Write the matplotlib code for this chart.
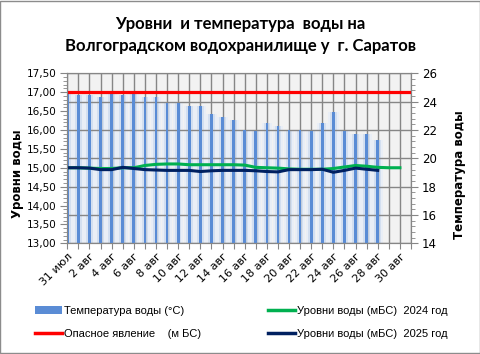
import numpy as np
import matplotlib
matplotlib.use('Agg')
import matplotlib.pyplot as plt
from matplotlib.ticker import MultipleLocator, FuncFormatter
from matplotlib.patches import Patch, Rectangle
from matplotlib.lines import Line2D

# dates on the x axis (31 Jul .. 31 Aug)
dates = ['31 июл', '1 авг', '2 авг', '3 авг', '4 авг', '5 авг', '6 авг', '7 авг',
         '8 авг', '9 авг', '10 авг', '11 авг', '12 авг', '13 авг', '14 авг', '15 авг',
         '16 авг', '17 авг', '18 авг', '19 авг', '20 авг', '21 авг', '22 авг', '23 авг',
         '24 авг', '25 авг', '26 авг', '27 авг', '28 авг', '29 авг', '30 авг', '31 авг']

# water temperature, 2025 (deg C)
temp = [24.7, 24.5, 24.5, 24.3, 24.6, 24.5, 24.6, 24.3, 24.3, 23.9, 23.9, 23.7, 23.7,
        23.1, 22.9, 22.7, 22.0, 21.9, 22.5, 22.3, 22.0, 22.0, 21.9, 22.5, 23.3, 21.9,
        21.7, 21.7, 21.3]

# water levels (m BS)
level_2024 = [15.00, 15.00, 14.99, 14.98, 14.98, 15.00, 15.00, 15.06, 15.09, 15.10, 15.10,
              15.08, 15.08, 15.08, 15.08, 15.08, 15.07, 15.01, 15.00, 14.99, 14.97, 14.96,
              14.96, 14.96, 14.98, 15.02, 15.06, 15.04, 15.01, 15.00, 15.00]
level_2025 = [15.00, 15.00, 14.99, 14.95, 14.95, 15.01, 14.98, 14.95, 14.94, 14.93, 14.93,
              14.93, 14.90, 14.92, 14.93, 14.93, 14.93, 14.92, 14.90, 14.89, 14.95, 14.95,
              14.95, 14.96, 14.88, 14.93, 14.99, 14.96, 14.93]
danger_level = 17.0

grid_col = '#868686'
bar_col = '#5a8cd5'

fig = plt.figure(figsize=(4.81, 3.54), dpi=100)
ax = fig.add_axes([67.3/481, 1-243.3/354, (411-67.3)/481, (243.3-73.3)/354])
ax2 = ax.twinx()
ax.set_zorder(ax2.get_zorder()+1)
ax.patch.set_visible(False)
ax2.patch.set_visible(True)
ax2.patch.set_facecolor('#f2f2f2')

# temperature bars (soft halo + core)
xt = np.arange(len(temp))
ax2.bar(xt, temp, width=0.95, color='#e9eef6', zorder=1)
ax2.bar(xt, temp, width=0.6, color='#d3dff0', zorder=1.2)
ax2.bar(xt, temp, width=0.24, color=bar_col, zorder=3)
ax2.set_ylim(14, 26)
ax2.yaxis.set_major_locator(MultipleLocator(2))
ax2.yaxis.set_minor_locator(MultipleLocator(0.4))
ax2.set_axisbelow('line')
ax2.xaxis.set_visible(True)
ax2.tick_params(axis='x', bottom=False, top=False, labelbottom=False, labeltop=False)
ax2.grid(True, axis='both', color=grid_col, lw=1)
ax2.tick_params(axis='y', which='both', colors=grid_col, labelcolor='black', labelsize=8.5, direction='out')
ax2.tick_params(axis='y', which='major', length=5, pad=3)
ax2.tick_params(axis='y', which='minor', length=3)

# level lines
ax.axhline(danger_level, color='#ff0000', lw=2.3)
ax.plot(np.arange(len(level_2024)), level_2024, color='#00b050', lw=2.2)
ax.plot(np.arange(len(level_2025)), level_2025, color='#002060', lw=2.2)
ax.set_ylim(13, 17.5)
ax.yaxis.set_major_locator(MultipleLocator(0.5))
ax.yaxis.set_minor_locator(MultipleLocator(0.1))
ax.yaxis.set_major_formatter(FuncFormatter(lambda v, p: ('%.2f' % v).replace('.', ',')))
ax.tick_params(axis='y', which='both', colors=grid_col, labelcolor='black', labelsize=7.5, direction='out')
ax.tick_params(axis='y', which='major', length=5, pad=3)
ax.tick_params(axis='y', which='minor', length=3)

ax.set_xlim(0, len(dates)-1)
ax.set_xticks(np.arange(len(dates)))
ax.set_xticklabels([d if i % 2 == 0 else '' for i, d in enumerate(dates)],
                   rotation=45, ha='right', rotation_mode='anchor', fontsize=8)
ax.tick_params(axis='x', colors=grid_col, labelcolor='black', length=4, pad=2)

for a in (ax, ax2):
    for s in a.spines.values():
        s.set_color(grid_col)

fig.text(0.037, 180/354., 'Уровни воды', rotation=90, ha='center', va='center',
         fontsize=8.5, fontweight='bold')
fig.text(460/481., 1-175/354., 'Температура воды', rotation=90, ha='center', va='center',
         fontsize=8.5, fontweight='bold')

fig.text(0.5, 1-35/354., 'Уровни  и температура  воды на\nВолгоградском водохранилище у  г. Саратов',
         ha='center', va='center', fontsize=12, fontweight='bold', family='Lato',
         linespacing=1.5)

h_bar = Patch(facecolor=bar_col)
h_red = Line2D([], [], color='#ff0000', lw=2.5)
h_24 = Line2D([], [], color='#00b050', lw=2.5)
h_25 = Line2D([], [], color='#002060', lw=2.5)
leg_kw = dict(loc='upper left', frameon=False, prop={'family': 'Liberation Sans', 'size': 8},
              handlelength=2.4, handletextpad=0.25, labelspacing=1.15, borderaxespad=0, borderpad=0)
fig.legend([h_bar, h_red], ['Температура воды (°С)', 'Опасное явление    (м БС)'],
           bbox_to_anchor=(35/481., 1-306/354.), **leg_kw)
fig.legend([h_24, h_25], ['Уровни воды (мБС)  2024 год', 'Уровни воды (мБС)  2025 год'],
           bbox_to_anchor=(268/481., 1-306/354.), **leg_kw)

fig.patches.append(Rectangle((0.001, 0.0015), 0.997, 0.996, transform=fig.transFigure,
                             fill=False, edgecolor='#8c8c8c', lw=1))

plt.savefig('out.png', dpi=100)
